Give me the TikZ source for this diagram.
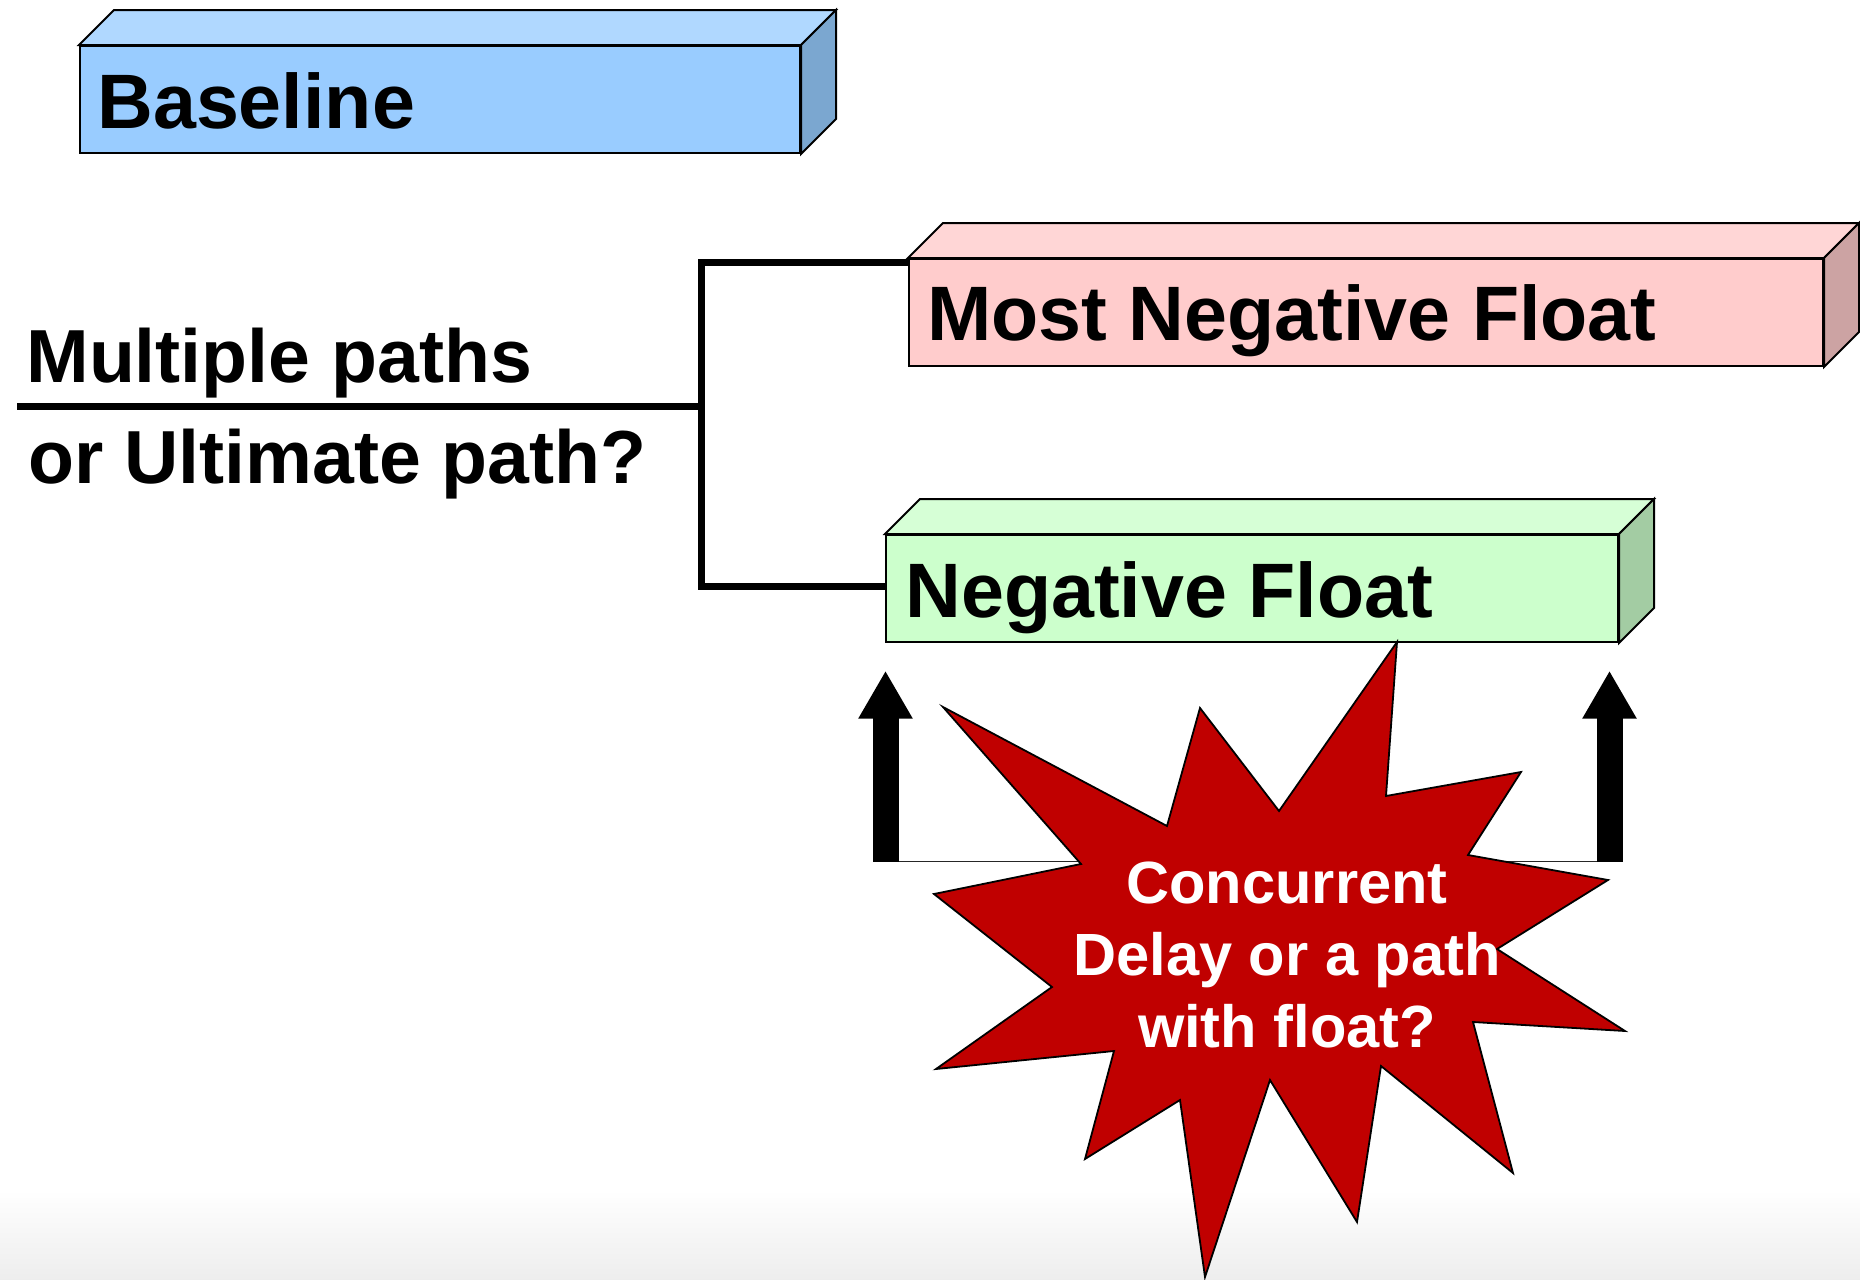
\documentclass[tikz,border=0pt]{standalone}
\usepackage{fontspec}
\setmainfont{Liberation Sans}
\usetikzlibrary{calc,arrows.meta}

\definecolor{blueFront}{HTML}{99CCFF}
\definecolor{blueTop}{HTML}{B0D8FF}
\definecolor{blueSide}{HTML}{7BA7D0}
\definecolor{pinkFront}{HTML}{FFCCCC}
\definecolor{pinkTop}{HTML}{FFD6D6}
\definecolor{pinkSide}{HTML}{CCA3A3}
\definecolor{greenFront}{HTML}{CCFFCC}
\definecolor{greenTop}{HTML}{D6FFD6}
\definecolor{greenSide}{HTML}{A3CCA3}
\definecolor{burstRed}{HTML}{C00000}

% top and side faces of a slab whose front face is the node #1
\newcommand\slabfaces[3]{%
  \filldraw[edge,fill=#2] (#1.north west) -- ++(35,-35)
    -- ($(#1.north east)+(35,-35)$) -- (#1.north east) -- cycle;
  \filldraw[edge,fill=#3] (#1.north east) -- ++(35,-35)
    -- ($(#1.south east)+(35,-35)$) -- (#1.south east) -- cycle;}

\begin{document}
\begin{tikzpicture}[x=0.5pt,y=-0.5pt,
  edge/.style={draw=black,line width=1pt,line join=miter},
  slab/.style={edge,rectangle,inner sep=0pt,anchor=north west,minimum height=53.5pt},
  title/.style={font=\fontsize{38.6}{44}\selectfont\bfseries,anchor=base west,inner sep=0pt},
  question/.style={font=\fontsize{37.6}{44}\selectfont\bfseries,anchor=base west,inner sep=0pt},
  bracket/.style={draw=black,line width=3.5pt},
  thinlink/.style={draw=black!85,line width=0.8pt},
  uparrow/.style={draw=black,line width=13pt,-{Triangle[width=25.5pt,length=24pt]}},
  burstlabel/.style={font=\fontsize{29.8}{36}\selectfont\bfseries,text=white,align=center,inner sep=0pt}]

\useasboundingbox (0,0) rectangle (1860,1280);
\shade[top color=white,bottom color=black!7] (0,1190) rectangle (1860,1280);

% the three slabs
\node[slab,fill=blueFront,minimum width=360pt] (base) at (79,45) {};
\slabfaces{base}{blueTop}{blueSide}
\node[slab,fill=pinkFront,minimum width=457pt] (mnf) at (908,258) {};
\slabfaces{mnf}{pinkTop}{pinkSide}
\node[slab,fill=greenFront,minimum width=366pt] (nf) at (885,534) {};
\slabfaces{nf}{greenTop}{greenSide}

\node[title] (baseT) at (97,128) {Baseline};
\node[title] (mnfT) at (927,340) {Most Negative Float};
\node[title] (nfT) at (905,617) {Negative Float};

% question on the left and the branching bracket
\node[question] (q1) at (26,382) {Multiple paths};
\node[question] (q2) at (28,483) {or Ultimate path?};
\coordinate (stem) at (17,406);
\coordinate (split) at (701,406);
\coordinate (jtop) at (701,262);
\coordinate (jbot) at (701,586);
\draw[bracket] (stem) -- (split);
\draw[bracket] (jtop -| mnf.west) -- (jtop) -- (jbot) -- (jbot -| nf.west);

% thin links from the burst to the arrow feet
\coordinate (footL) at (885.5,861.5);
\coordinate (tipL) at (885.5,670.7);
\coordinate (footR) at (1609.5,861.5);
\coordinate (tipR) at (1609.5,670.7);
\coordinate (starL) at (1081,861.5);
\coordinate (starR) at (1467,861.5);
\draw[thinlink] (starL) -- (footL);
\draw[thinlink] (starR) -- (footR);

% the burst
\filldraw[draw=black,line width=0.9pt,fill=burstRed,line join=miter]
  (943,707) -- (1167,826) -- (1200,708) -- (1279,811) -- (1397,642)
  -- (1386,796) -- (1521,772) -- (1468,855) -- (1608,880) -- (1497,949)
  -- (1625,1031) -- (1473,1022) -- (1513,1173) -- (1381,1066)
  -- (1357,1222) -- (1270,1080) -- (1205,1277) -- (1180,1100)
  -- (1085,1159) -- (1114,1051) -- (936,1069) -- (1052,987)
  -- (934,894) -- (1081,864) -- cycle;
\node[burstlabel] (burst) at (1287,955) {Concurrent\\Delay or a path\\with float?};

% thick arrows pointing up at the Negative Float slab
\draw[uparrow] (footL) -- (tipL);
\draw[uparrow] (footR) -- (tipR);
\end{tikzpicture}
\end{document}
